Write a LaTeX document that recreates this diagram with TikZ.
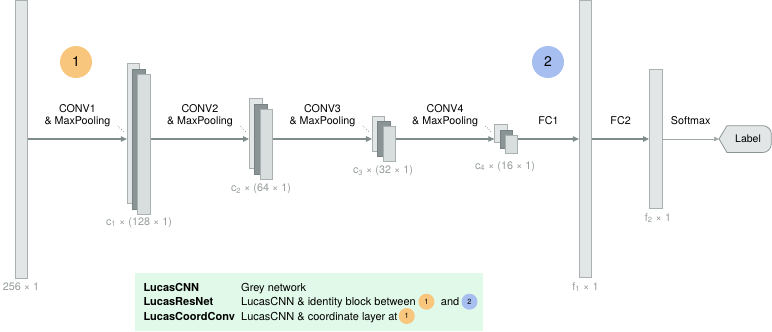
\documentclass[tikz,border=0pt]{standalone}
\usepackage{fontspec}
\setmainfont{TeX Gyre Heros}
\usetikzlibrary{arrows.meta,calc}
\definecolor{barfill}{RGB}{226,230,230}
\definecolor{barline}{RGB}{168,176,176}
\definecolor{darkfill}{RGB}{138,148,148}
\definecolor{darkline}{RGB}{120,130,130}
\definecolor{frontfill}{RGB}{216,222,222}
\definecolor{arrcol}{RGB}{128,140,140}
\definecolor{thincol}{RGB}{160,168,168}
\definecolor{dimtext}{RGB}{150,156,156}
\definecolor{orangeb}{RGB}{249,198,126}
\definecolor{blueb}{RGB}{167,190,240}
\definecolor{mint}{RGB}{225,249,233}
\definecolor{labline}{RGB}{140,150,150}
\begin{document}
\begin{tikzpicture}[x=1pt,y=1pt,
  bar/.style={draw=barline, fill=barfill, line width=0.8pt, minimum width=12.5pt, inner sep=0pt},
  darkbar/.style={bar, fill=darkfill, draw=darkline},
  frontbar/.style={bar, fill=frontfill},
  arr/.style={draw=arrcol, line width=1.1pt, -{Triangle[length=6pt,width=5.5pt]}},
  thinarr/.style={draw=thincol, line width=0.7pt, -{Triangle[length=5pt,width=4.5pt]}},
  lab/.style={font=\fontsize{10.7}{11.7}\selectfont, align=center, inner sep=0pt, text=black},
  dim/.style={font=\fontsize{10.8}{12}\selectfont, text=dimtext, inner sep=0pt},
  dots/.style={draw=arrcol, line width=0.6pt, dash pattern=on 0.8pt off 1.6pt},
  badge/.style={circle, inner sep=0pt, minimum size=32pt, font=\fontsize{14}{16}\selectfont},
  minibadge/.style={circle, inner sep=0pt, minimum size=16pt, font=\fontsize{7.5}{9}\selectfont},
  legtxt/.style={font=\fontsize{11}{13}\selectfont, inner sep=0pt, anchor=base west},
  labshape/.style={draw=labline, fill=barfill, line width=0.8pt},
]
\useasboundingbox (0,0) rectangle (772,-332);

% badges
\node[badge, fill=orangeb] (b1) at (76,-62) {1};
\node[badge, fill=blueb] (b2) at (548,-62) {2};

% input and FC bars
\node[bar, minimum height=278pt] (in) at (21.3,-139) {};
\node[bar, minimum height=277pt] (fc1) at (585.5,-138.5) {};
\node[bar, minimum height=139pt] (fc2) at (655.7,-138.8) {};

% stacks
\node[bar, minimum height=140pt] (s1a) at (133.5,-133.7) {};
\node[darkbar, minimum height=140pt] (s1b) at (138.8,-139) {};
\node[frontbar, minimum height=140pt] (s1c) at (144.1,-144.3) {};

\node[bar, minimum height=70pt] (s2a) at (255.7,-133.7) {};
\node[darkbar, minimum height=70pt] (s2b) at (261,-139) {};
\node[frontbar, minimum height=70pt] (s2c) at (266.3,-144.3) {};

\node[bar, minimum height=35pt] (s3a) at (378.6,-133.7) {};
\node[darkbar, minimum height=35pt] (s3b) at (383.9,-139) {};
\node[frontbar, minimum height=35pt] (s3c) at (389.2,-144.3) {};

\node[bar, minimum height=18pt] (s4a) at (501,-133.7) {};
\node[darkbar, minimum height=18pt] (s4b) at (506.3,-139) {};
\node[frontbar, minimum height=18pt] (s4c) at (511.6,-144.3) {};

% dotted hints
\foreach \s in {s1,s2,s3,s4}{
  \draw[dots] ($(\s a.west |- \s b.center)+(-9,13)$) -- ($(\s a.west |- \s b.center)+(-3,7)$);
}

% label node
\coordinate (labtip) at (719,-139);
\draw[labshape] (labtip) -- (727,-125.7) -- (762.8,-125.7) arc[start angle=90,end angle=0,radius=8.5pt]
  -- (771.3,-144) arc[start angle=0,end angle=-90,radius=8.5pt] -- (727,-152.5) -- cycle;
\node[font=\fontsize{10.5}{12}\selectfont, inner sep=0pt] (labeltxt) at (748,-139) {Label};

% arrows with labels
\draw[arr] (in.east |- s1b.center) -- node[lab, pos=0.5, yshift=23pt] {CONV1\\\& MaxPooling} (s1a.west |- s1b.center);
\draw[arr] (s1c.east |- s1b.center) -- node[lab, pos=0.5, yshift=23pt] {CONV2\\\& MaxPooling} (s2a.west |- s2b.center);
\draw[arr] (s2c.east |- s2b.center) -- node[lab, pos=0.5, yshift=23pt] {CONV3\\\& MaxPooling} (s3a.west |- s3b.center);
\draw[arr] (s3c.east |- s3b.center) -- node[lab, pos=0.5, yshift=23pt] {CONV4\\\& MaxPooling} (s4a.west |- s4b.center);
\draw[arr] (s4c.east |- s4b.center) -- node[lab, pos=0.5, yshift=18pt] {FC1} (fc1.west |- s4b.center);
\draw[arr] (fc1.east |- s4b.center) -- node[lab, pos=0.5, yshift=18pt] {FC2} (fc2.west |- s4b.center);
\draw[thinarr] (fc2.east |- s4b.center) -- node[lab, pos=0.5, yshift=18pt] {Softmax} (labtip);

% dimension labels
\node[dim] (d0) at (21,-287) {256 × 1};
\node[dim] (d1) at (139,-222.3) {c\textsubscript{1} × (128 × 1)};
\node[dim] (d2) at (261,-188.7) {c\textsubscript{2} × (64 × 1)};
\node[dim] (d3) at (383,-171) {c\textsubscript{3} × (32 × 1)};
\node[dim] (d4) at (505,-166.5) {c\textsubscript{4} × (16 × 1)};
\node[dim] (d5) at (585.5,-287) {f\textsubscript{1} × 1};
\node[dim] (d6) at (658,-218) {f\textsubscript{2} × 1};

% legend
\node[fill=mint, minimum width=347.7pt, minimum height=58.7pt, inner sep=0pt, anchor=north west] (legend) at (135,-272.3) {};
\node[legtxt, font=\fontsize{11}{13}\selectfont\bfseries] (k1) at (143.3,-291.7) {LucasCNN};
\node[legtxt, font=\fontsize{11}{13}\selectfont\bfseries] (k2) at (143.3,-305.7) {LucasResNet};
\node[legtxt, font=\fontsize{11}{13}\selectfont\bfseries] (k3) at (143.3,-320) {LucasCoordConv};
\node[legtxt] (v1) at (241,-291.7) {Grey network};
\node[legtxt] (v2) at (241,-305.7) {LucasCNN \& identity block between};
\node[minibadge, fill=orangeb] (m1) at ($(v2.base east)+(10.4,4)$) {1};
\node[legtxt] (and) at ($(m1.center)+(14.3,-4)$) {and};
\node[minibadge, fill=blueb] (m2) at ($(and.base east)+(10,4)$) {2};
\node[legtxt] (v3) at (241,-320) {LucasCNN \& coordinate layer at};
\node[minibadge, fill=orangeb] (m3) at ($(v3.base east)+(9,4)$) {1};
\end{tikzpicture}
\end{document}
